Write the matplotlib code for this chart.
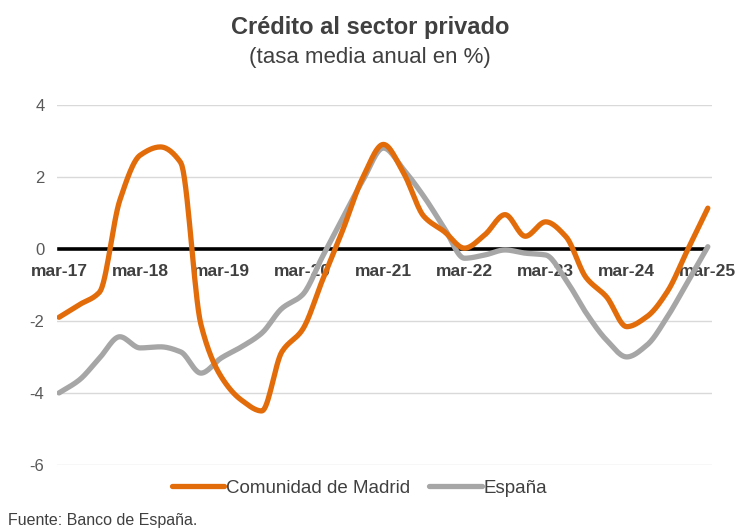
import numpy as np
import matplotlib.pyplot as plt
from matplotlib import font_manager

plt.rcParams['font.family'] = ['Liberation Sans', 'DejaVu Sans']

# quarterly data, mar-17 .. mar-25
madrid = [-1.9, -1.55, -1.2, 1.35, 2.6, 2.83, 2.4, -2.1, -3.55, -4.2, -4.5,
          -2.85, -2.25, -0.86, 0.53, 2.0, 2.9, 2.1, 0.9, 0.48, 0.02, 0.39,
          0.95, 0.35, 0.75, 0.34, -0.8, -1.33, -2.16, -1.88, -1.19, -0.03, 1.13]
espana = [-4.0, -3.64, -3.03, -2.44, -2.75, -2.72, -2.86, -3.45, -3.03, -2.72,
          -2.34, -1.65, -1.28, -0.21, 0.86, 1.92, 2.8, 2.2, 1.45, 0.58, -0.26,
          -0.17, -0.03, -0.12, -0.17, -0.86, -1.78, -2.53, -3.0, -2.67, -1.89,
          -0.92, 0.06]
tick_labels = ["mar-17", "mar-18", "mar-19", "mar-20", "mar-21",
               "mar-22", "mar-23", "mar-24", "mar-25"]


def smooth(y, n=16):
    # monotone cubic (Fritsch-Carlson) through the points, for a smoothed line
    y = np.asarray(y, float)
    x = np.arange(len(y), dtype=float)
    d = np.diff(y)
    m = np.zeros_like(y)
    m[0], m[-1] = d[0], d[-1]
    for i in range(1, len(y) - 1):
        if d[i - 1] * d[i] > 0:
            m[i] = 2 / (1 / d[i - 1] + 1 / d[i])
    xs, ys = [], []
    t = np.linspace(0, 1, n, endpoint=False)
    for i in range(len(y) - 1):
        h00 = 2 * t ** 3 - 3 * t ** 2 + 1
        h10 = t ** 3 - 2 * t ** 2 + t
        h01 = -2 * t ** 3 + 3 * t ** 2
        h11 = t ** 3 - t ** 2
        xs.extend(x[i] + t)
        ys.extend(h00 * y[i] + h10 * m[i] + h01 * y[i + 1] + h11 * m[i + 1])
    xs.append(x[-1])
    ys.append(y[-1])
    return np.array(xs), np.array(ys)


fig = plt.figure(figsize=(7.4, 5.32), dpi=100)
ax = fig.add_axes([0.077, 0.126, 0.885, 0.677])

for yv in [4, 2, -2, -4, -6]:
    ax.axhline(yv, color="#D9D9D9", lw=1, zorder=0)

mx, my = smooth(madrid)
ex, ey = smooth(espana)
ax.plot(ex, ey, color="#A6A6A6", lw=3.8, solid_capstyle="round",
        label="España", zorder=3)
ax.plot(mx, my, color="#E36C0A", lw=3.8, solid_capstyle="round",
        label="Comunidad de Madrid", zorder=4)

ax.set_xlim(-0.1, 32.2)
ax.set_ylim(-6, 4)
ax.set_yticks([4, 2, 0, -2, -4, -6])
ax.set_yticklabels(["4", "2", "0", "-2", "-4", "-6"])
ax.set_xticks(range(0, 33, 4))
ax.set_xticklabels(tick_labels)

for s in ["top", "right", "left"]:
    ax.spines[s].set_visible(False)
ax.spines["bottom"].set_position(("data", 0))
ax.spines["bottom"].set_color("black")
ax.spines["bottom"].set_linewidth(2.6)
ax.spines["bottom"].set_bounds(0, 31.8)
ax.tick_params(axis="x", length=0, pad=11, labelsize=12.5, labelcolor="#404040")
ax.tick_params(axis="y", length=0, pad=9, labelsize=12, labelcolor="#595959")
for lbl in ax.get_xticklabels():
    lbl.set_fontweight("bold")

handles, labels = ax.get_legend_handles_labels()
ax.legend(handles[::-1], labels[::-1], loc="center", bbox_to_anchor=(0.462, -0.065),
          ncol=2, frameon=False, fontsize=13.5, handlelength=2.8,
          handletextpad=0.1, columnspacing=1.0, labelcolor="#404040")

fig.text(0.5, 0.936, "Crédito al sector privado", ha="center", va="baseline",
         fontsize=17, fontweight="bold", color="#404040")
fig.text(0.5, 0.882, "(tasa media anual en %)", ha="center", va="baseline",
         fontsize=16, color="#404040")

names = {f.name for f in font_manager.fontManager.ttflist}
if "Liberation Sans Narrow" in names:
    src_font, src_size = "Liberation Sans Narrow", 13
else:
    src_font, src_size = "Liberation Sans", 11.5
fig.text(0.011, 0.022, "Fuente: Banco de España.", ha="left", va="center",
         fontsize=src_size, color="#404040", family=[src_font, "DejaVu Sans"])

fig.savefig("out.png", dpi=100)
